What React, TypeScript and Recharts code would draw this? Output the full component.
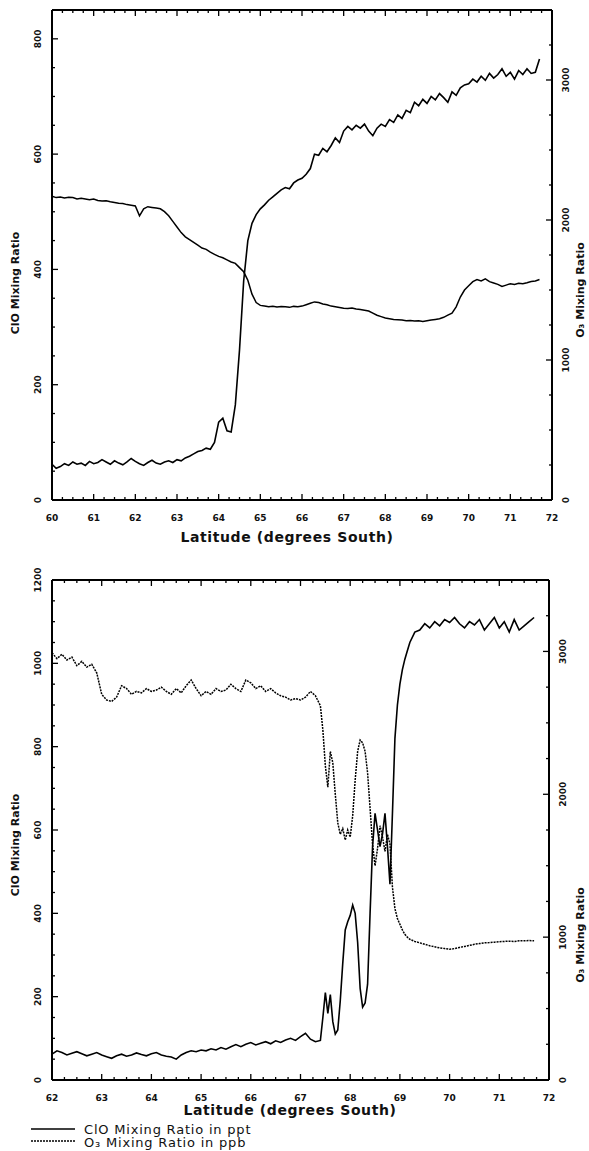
import { LineChart, Line, XAxis, YAxis } from 'recharts';

// Flight 1: latitude (deg S), ClO (ppt), O3 (ppb)
const lat1 = [
  60.0, 60.1, 60.2, 60.3, 60.4, 60.5, 60.6, 60.7, 60.8, 60.9,
  61.0, 61.1, 61.2, 61.3, 61.4, 61.5, 61.6, 61.7, 61.8, 61.9,
  62.0, 62.1, 62.2, 62.3, 62.4, 62.5, 62.6, 62.7, 62.8, 62.9,
  63.0, 63.1, 63.2, 63.3, 63.4, 63.5, 63.6, 63.7, 63.8, 63.9,
  64.0, 64.1, 64.2, 64.3, 64.4, 64.5, 64.6, 64.7, 64.8, 64.9,
  65.0, 65.1, 65.2, 65.3, 65.4, 65.5, 65.6, 65.7, 65.8, 65.9,
  66.0, 66.1, 66.2, 66.3, 66.4, 66.5, 66.6, 66.7, 66.8, 66.9,
  67.0, 67.1, 67.2, 67.3, 67.4, 67.5, 67.6, 67.7, 67.8, 67.9,
  68.0, 68.1, 68.2, 68.3, 68.4, 68.5, 68.6, 68.7, 68.8, 68.9,
  69.0, 69.1, 69.2, 69.3, 69.4, 69.5, 69.6, 69.7, 69.8, 69.9,
  70.0, 70.1, 70.2, 70.3, 70.4, 70.5, 70.6, 70.7, 70.8, 70.9,
  71.0, 71.1, 71.2, 71.3, 71.4, 71.5, 71.6, 71.7,
];
const clo1 = [
  62, 55, 58, 63, 60, 66, 62, 64, 60, 67,
  63, 65, 70, 66, 62, 68, 64, 61, 66, 72,
  67, 63, 60, 65, 69, 64, 62, 66, 68, 65,
  70, 68, 73, 76, 80, 84, 86, 90, 88, 100,
  135, 142, 120, 118, 165, 260, 380, 450, 480, 495,
  505, 512, 520, 526, 532, 538, 542, 540, 550, 555,
  558, 565, 575, 600, 598, 610, 604, 615, 628, 620,
  640, 648, 642, 650, 645, 652, 640, 632, 645, 652,
  648, 660, 655, 668, 662, 676, 672, 690, 684, 695,
  688, 700, 694, 705, 698, 690, 708, 702, 715, 720,
  722, 730, 725, 735, 728, 740, 732, 738, 748, 735,
  742, 730, 745, 738, 748, 740, 742, 765,
];
const o3_1 = [
  2170, 2160, 2165, 2158, 2162, 2160, 2150, 2155, 2150, 2145,
  2150, 2140, 2135, 2138, 2130, 2125, 2120, 2118, 2110, 2105,
  2100, 2030, 2080, 2095, 2090, 2085, 2080, 2060, 2030, 1990,
  1950, 1910, 1880, 1860, 1840, 1820, 1800, 1790, 1770, 1755,
  1740, 1730, 1715, 1700, 1690, 1660, 1630, 1570, 1470, 1410,
  1390, 1385, 1380, 1384, 1378, 1382, 1380, 1376, 1383, 1380,
  1385, 1395, 1405, 1415, 1410, 1400, 1395, 1385, 1380, 1375,
  1370, 1368, 1372, 1365, 1360, 1355, 1350, 1335, 1320, 1310,
  1300, 1295, 1290, 1288, 1285, 1280, 1282, 1278, 1280, 1275,
  1280, 1285, 1290, 1295, 1305, 1320, 1335, 1380, 1450, 1500,
  1530, 1560, 1575, 1565, 1580, 1560, 1550, 1540, 1525, 1535,
  1545, 1540, 1548, 1545, 1552, 1560, 1565, 1575,
];

// Flight 2
const lat2 = [
  62.0, 62.1, 62.2, 62.3, 62.4, 62.5, 62.6, 62.7, 62.8, 62.9,
  63.0, 63.1, 63.2, 63.3, 63.4, 63.5, 63.6, 63.7, 63.8, 63.9,
  64.0, 64.1, 64.2, 64.3, 64.4, 64.5, 64.6, 64.7, 64.8, 64.9,
  65.0, 65.1, 65.2, 65.3, 65.4, 65.5, 65.6, 65.7, 65.8, 65.9,
  66.0, 66.1, 66.2, 66.3, 66.4, 66.5, 66.6, 66.7, 66.8, 66.9,
  67.0, 67.1, 67.2, 67.3, 67.4,
  67.45, 67.5, 67.55, 67.6, 67.65, 67.7, 67.75, 67.8, 67.85, 67.9, 67.95,
  68.0, 68.05, 68.1, 68.15, 68.2, 68.25, 68.3, 68.35, 68.4, 68.45,
  68.5, 68.55, 68.6, 68.65, 68.7, 68.75, 68.8, 68.85, 68.9, 68.95,
  69.0, 69.05, 69.1, 69.15, 69.2,
  69.3, 69.4, 69.5, 69.6, 69.7, 69.8, 69.9,
  70.0, 70.1, 70.2, 70.3, 70.4, 70.5, 70.6, 70.7, 70.8, 70.9,
  71.0, 71.1, 71.2, 71.3, 71.4, 71.5, 71.6, 71.7,
];
const clo2 = [
  62, 70, 66, 60, 64, 68, 63, 58, 62, 66,
  60, 56, 52, 58, 62, 57, 60, 65, 61, 58,
  63, 66, 60, 57, 55, 50, 60, 66, 70, 68,
  72, 70, 75, 72, 78, 74, 80, 85, 80, 86,
  90, 84, 88, 92, 87, 94, 90, 96, 100, 95,
  104, 112, 98, 92, 95,
  150, 210, 160, 205, 140, 110, 120, 190, 280, 360, 380,
  395, 420, 400, 330, 220, 175, 185, 230, 400, 560,
  640, 600, 560, 590, 640, 560, 470, 640, 820, 900,
  950, 985, 1010, 1030, 1050,
  1075, 1080, 1095, 1085, 1100, 1090, 1105,
  1098, 1110, 1095, 1085, 1100, 1092, 1105, 1080, 1095, 1110,
  1085, 1100, 1075, 1105, 1080, 1090, 1100, 1110,
];
const o3_2 = [
  2990, 2950, 2980, 2940, 2960, 2900, 2930, 2890, 2910, 2850,
  2700, 2660, 2650, 2680, 2760, 2740, 2700, 2720, 2710, 2740,
  2720, 2730, 2750, 2720, 2700, 2740, 2710, 2760, 2800, 2740,
  2690, 2720, 2700, 2740, 2720, 2730, 2770, 2740, 2720, 2800,
  2780, 2740, 2760, 2720, 2740, 2710, 2690, 2680, 2660, 2670,
  2660, 2680, 2720, 2690, 2620,
  2450, 2200, 2050, 2300, 2220, 2000, 1800, 1720, 1760, 1680, 1750,
  1700, 1850, 2100, 2300, 2380, 2360, 2300, 2150, 1900, 1650,
  1500, 1620, 1780, 1700, 1600, 1720, 1650, 1350, 1200, 1130,
  1090, 1050, 1020, 1000, 985,
  970, 960, 950, 940, 932, 925, 920,
  915, 920, 928, 935, 942, 950, 955, 960, 962, 965,
  968, 970, 972, 970, 974, 975, 976, 975,
];

// labelled tick values
const latLabels1 = [60, 61, 62, 63, 64, 65, 66, 67, 68, 69, 70, 71, 72];
const latLabels2 = [62, 63, 64, 65, 66, 67, 68, 69, 70, 71, 72];
const cloLabels1 = [0, 200, 400, 600, 800];
const cloLabels2 = [0, 200, 400, 600, 800, 1000, 1200];
const o3Labels = [0, 1000, 2000, 3000];

const steps = (lo: number, hi: number, step: number) => {
  const out: number[] = [];
  for (let v = lo; v <= hi + 1e-9; v += step) out.push(Math.round(v * 100) / 100);
  return out;
};

const rows1 = lat1.map((lat, i) => ({ lat, clo: clo1[i], o3: o3_1[i] }));
const rows2 = lat2.map((lat, i) => ({ lat, clo: clo2[i], o3: o3_2[i] }));

const FONT = '"DejaVu Sans", Verdana, sans-serif';
const tickText = { fontFamily: FONT, fontSize: 9, fontWeight: 700, fill: '#111' };
const frame = { stroke: '#000', strokeWidth: 2 };

function LatTick(props: any) {
  const { x, y, payload, labels, side } = props;
  const v = payload.value;
  const major = labels.includes(v);
  const len = major ? 6 : 3;
  const dir = side === 'bottom' ? -1 : 1;
  return (
    <g>
      <line x1={x} y1={y} x2={x} y2={y + dir * len} stroke="#000" strokeWidth={1.3} />
      {side === 'bottom' && major && (
        <text x={x} y={y + 18} textAnchor="middle" dominantBaseline="central" style={tickText}>
          {v}
        </text>
      )}
    </g>
  );
}

function RatioTick(props: any) {
  const { x, y, payload, labels, side } = props;
  const v = payload.value;
  const major = labels.includes(v);
  const len = major ? 6 : 3;
  const dir = side === 'left' ? 1 : -1;
  const tx = side === 'left' ? x - 14 : x + 14;
  return (
    <g>
      <line x1={x} y1={y} x2={x + dir * len} y2={y} stroke="#000" strokeWidth={1.3} />
      {major && (
        <text
          transform={`translate(${tx},${y}) rotate(-90)`}
          textAnchor="middle"
          dominantBaseline="central"
          style={tickText}
        >
          {v}
        </text>
      )}
    </g>
  );
}

type PanelProps = {
  rows: any[];
  latDomain: [number, number];
  latLabels: number[];
  cloMax: number;
  cloLabels: number[];
  height: number;
  topGap: number;
  bottomGap: number;
  rightWidth: number;
  o3Dash?: string;
};

function Panel({ rows, latDomain, latLabels, cloMax, cloLabels, height, topGap, bottomGap, rightWidth, o3Dash }: PanelProps) {
  const latTicks = steps(latDomain[0], latDomain[1], 0.25);
  return (
    <LineChart width={589} height={height} data={rows} margin={{ top: 0, right: 0, bottom: 0, left: 0 }}>
      <XAxis
        dataKey="lat"
        type="number"
        domain={latDomain}
        ticks={latTicks}
        interval={0}
        tickSize={0}
        tickMargin={0}
        tickLine={false}
        axisLine={frame}
        height={bottomGap}
        tick={(p: any) => <LatTick {...p} labels={latLabels} side="bottom" />}
      />
      <XAxis
        xAxisId="top"
        orientation="top"
        dataKey="lat"
        type="number"
        domain={latDomain}
        ticks={latTicks}
        interval={0}
        tickSize={0}
        tickMargin={0}
        tickLine={false}
        axisLine={frame}
        height={topGap}
        tick={(p: any) => <LatTick {...p} labels={latLabels} side="top" />}
      />
      <YAxis
        yAxisId="clo"
        type="number"
        domain={[0, cloMax]}
        ticks={steps(0, cloMax, 50)}
        interval={0}
        tickSize={0}
        tickMargin={0}
        tickLine={false}
        axisLine={frame}
        width={52}
        tick={(p: any) => <RatioTick {...p} labels={cloLabels} side="left" />}
      />
      <YAxis
        yAxisId="o3"
        orientation="right"
        type="number"
        domain={[0, 3500]}
        ticks={steps(0, 3500, 250)}
        interval={0}
        tickSize={0}
        tickMargin={0}
        tickLine={false}
        axisLine={frame}
        width={rightWidth}
        tick={(p: any) => <RatioTick {...p} labels={o3Labels} side="right" />}
      />
      <Line
        yAxisId="o3"
        dataKey="o3"
        type="linear"
        stroke="#000"
        strokeWidth={1.5}
        strokeDasharray={o3Dash}
        dot={false}
        isAnimationActive={false}
      />
      <Line
        yAxisId="clo"
        dataKey="clo"
        type="linear"
        stroke="#000"
        strokeWidth={1.6}
        dot={false}
        isAnimationActive={false}
      />
      {/* keeps the top frame axis bound to data */}
      <Line xAxisId="top" yAxisId="clo" dataKey="clo" stroke="none" dot={false} activeDot={false} isAnimationActive={false} />
    </LineChart>
  );
}

const titleText = { fontFamily: FONT, fontWeight: 700, fill: '#111' };

export default function App() {
  return (
    <div style={{ position: 'relative', width: 589, height: 1151, background: '#fff', overflow: 'hidden' }}>
      <style>{'body{margin:0}'}</style>
      <div style={{ position: 'absolute', left: 0, top: 0 }}>
        <Panel
          rows={rows1}
          latDomain={[60, 72]}
          latLabels={latLabels1}
          cloMax={850}
          cloLabels={cloLabels1}
          height={560}
          topGap={10}
          bottomGap={60}
          rightWidth={37}
        />
      </div>
      <div style={{ position: 'absolute', left: 0, top: 560 }}>
        <Panel
          rows={rows2}
          latDomain={[62, 72]}
          latLabels={latLabels2}
          cloMax={1200}
          cloLabels={cloLabels2}
          height={560}
          topGap={20}
          bottomGap={40}
          rightWidth={40}
          o3Dash="2 1"
        />
      </div>
      <svg width={589} height={1151} style={{ position: 'absolute', left: 0, top: 0, pointerEvents: 'none' }}>
        <text x={287} y={537} textAnchor="middle" dominantBaseline="central" fontSize={14} letterSpacing={0.6} style={titleText}>
          Latitude (degrees South)
        </text>
        <text x={290} y={1110} textAnchor="middle" dominantBaseline="central" fontSize={14} letterSpacing={0.6} style={titleText}>
          Latitude (degrees South)
        </text>
        <text transform="translate(15,283) rotate(-90)" textAnchor="middle" dominantBaseline="central" fontSize={11} style={titleText}>
          ClO Mixing Ratio
        </text>
        <text transform="translate(15,845) rotate(-90)" textAnchor="middle" dominantBaseline="central" fontSize={11} style={titleText}>
          ClO Mixing Ratio
        </text>
        <text transform="translate(580,290) rotate(-90)" textAnchor="middle" dominantBaseline="central" fontSize={11} style={titleText}>
          O₃ Mixing Ratio
        </text>
        <text transform="translate(580,935) rotate(-90)" textAnchor="middle" dominantBaseline="central" fontSize={11} style={titleText}>
          O₃ Mixing Ratio
        </text>
        <line x1={31} y1={1129} x2={75} y2={1129} stroke="#000" strokeWidth={1.5} />
        <text x={84} y={1129} dominantBaseline="central" fontSize={13} letterSpacing={0.8} style={{ fontFamily: FONT, fill: '#111' }}>
          ClO Mixing Ratio in ppt
        </text>
        <line x1={31} y1={1141} x2={75} y2={1141} stroke="#000" strokeWidth={1.5} strokeDasharray="2 1" />
        <text x={84} y={1142} dominantBaseline="central" fontSize={13} letterSpacing={0.8} style={{ fontFamily: FONT, fill: '#111' }}>
          O₃ Mixing Ratio in ppb
        </text>
      </svg>
    </div>
  );
}
